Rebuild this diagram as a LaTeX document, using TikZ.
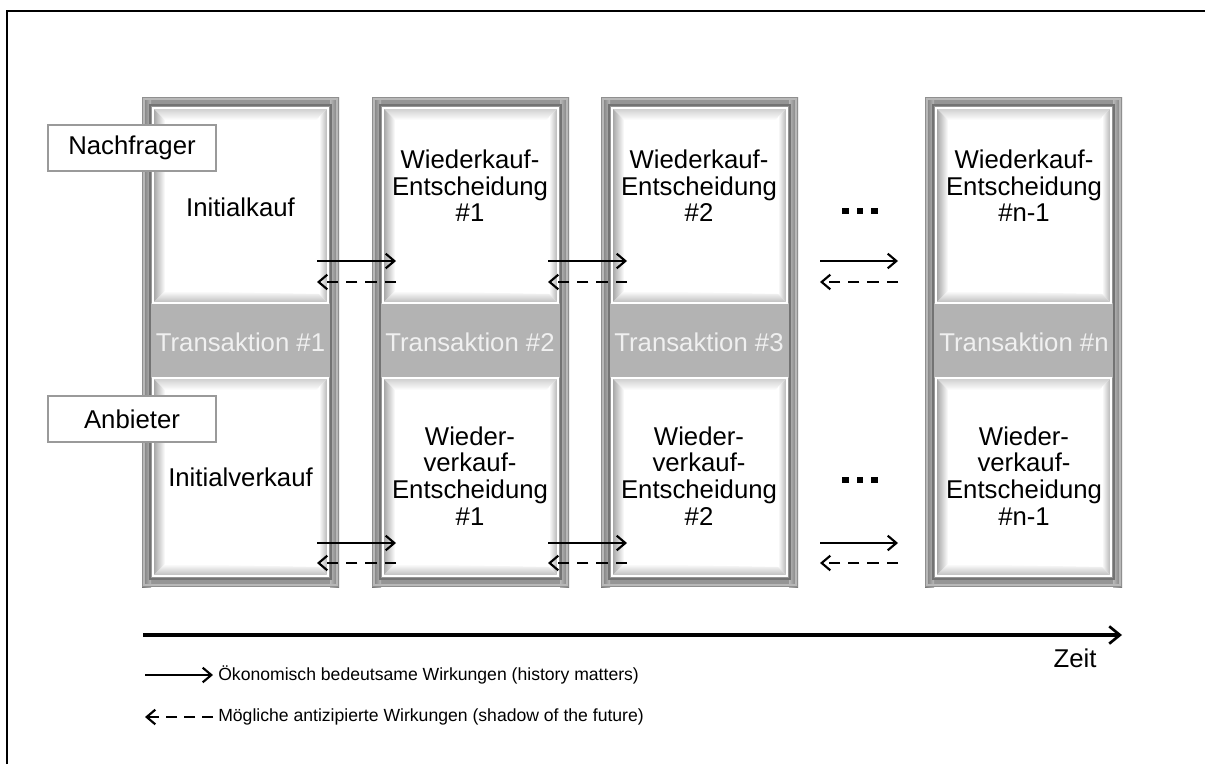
\documentclass[tikz,border=0pt]{standalone}
\usepackage{fontspec}
\setmainfont{Liberation Sans}
\usetikzlibrary{arrows.meta}

\definecolor{rimgray}{HTML}{959595}
\definecolor{rimdark}{HTML}{737373}
\definecolor{rimlight}{HTML}{B8B8B8}
\definecolor{bandgray}{HTML}{B3B3B3}
\definecolor{bevtop}{HTML}{CDCDCD}
\definecolor{bevleft}{HTML}{A0A0A0}
\definecolor{bevright}{HTML}{B0B0B0}
\definecolor{bevbot}{HTML}{BABABA}
\definecolor{boxline}{HTML}{9A9A9A}

% white panel with a shaded bevel: #1,#2 top-left corner, #3,#4 bottom-right corner
\newcommand{\bevelpanel}[4]{%
  \fill[white] (#1,#2) rectangle (#3,#4);
  \shade[top color=bevtop, bottom color=white]
    (#1,#2) -- (#3,#2) -- (#3-12,#2+12) -- (#1+12,#2+12) -- cycle;
  \shade[left color=bevleft, right color=white]
    (#1,#2) -- (#1+12,#2+12) -- (#1+12,#4-12) -- (#1,#4) -- cycle;
  \shade[left color=white, right color=bevright]
    (#3,#2) -- (#3,#4) -- (#3-9,#4-9) -- (#3-9,#2+9) -- cycle;
  \shade[top color=white, bottom color=bevbot]
    (#1,#4) -- (#3,#4) -- (#3-9,#4-9) -- (#1+12,#4-12) -- cycle;
  \draw[white, line width=1pt] (#1,#2) rectangle (#3,#4);
}

\tikzset{
  maintext/.style={font=\fontsize{19.3pt}{20pt}\selectfont, align=center, inner sep=0pt},
  bandtext/.style={maintext, text=white!94!black},
  rolebox/.style={draw=boxline, line width=0.8pt, fill=white,
    minimum width=126pt, minimum height=34.5pt, inner sep=0pt,
    font=\fontsize{19.3pt}{20pt}\selectfont},
  effect/.style={-{Straight Barb[length=6.5pt,width=11pt,line width=1.6pt]}, line width=1.6pt},
  anticip/.style={effect, dash pattern=on 8.5pt off 6pt},
  timeaxis/.style={-{Straight Barb[length=8pt,width=13pt,line width=2pt]}, line width=2.3pt},
  legendtext/.style={font=\fontsize{13.2pt}{15pt}\selectfont, anchor=west, inner sep=0pt},
  dotsq/.style={fill=black},
  column/.pic={
    \fill[rimgray] (0,0) rectangle (197,490);
    \shade[left color=rimdark, right color=rimlight] (0,0) rectangle (9,490);
    \shade[left color=rimlight, right color=rimdark] (188,0) rectangle (197,490);
    \draw[rimlight, line width=1.2pt] (2,2) rectangle (195,488);
    \draw[rimdark!80, line width=0.6pt] (0.3,0.3) rectangle (196.7,489.7);
    \draw[rimdark, line width=0.8pt] (8,8) rectangle (189,482);
    \fill[bandgray] (9,206) rectangle (188,281);
    \bevelpanel{11}{11}{186}{206}
    \bevelpanel{11}{281}{186}{479}
  }
}

\begin{document}
\begin{tikzpicture}[x=0.75pt, y=-0.75pt]
  \useasboundingbox (0,0) rectangle (1205,764);
  \fill[white] (0,0) rectangle (1205,764);
  % page frame
  \draw[line width=1.5pt] (7,764) -- (7,11) -- (1205,11);

  % four transaction columns
  \pic at (142,97) {column};
  \pic at (372,97) {column};
  \pic at (601,97) {column};
  \pic at (925,97) {column};

  % buyer side
  \node[maintext] (k1) at (240.5,207) {Initialkauf};
  \node[maintext] (k2) at (470,186) {Wiederkauf-\\Entscheidung\\\#1};
  \node[maintext] (k3) at (699,186) {Wiederkauf-\\Entscheidung\\\#2};
  \node[maintext] (k4) at (1024,186) {Wiederkauf-\\Entscheidung\\\#n-1};

  % transaction bands
  \node[bandtext] (t1) at (240.5,342) {Transaktion \#1};
  \node[bandtext] (t2) at (470,342) {Transaktion \#2};
  \node[bandtext] (t3) at (699,342) {Transaktion \#3};
  \node[bandtext] (t4) at (1024,342) {Transaktion \#n};

  % seller side
  \node[maintext] (v1) at (240.5,477) {Initialverkauf};
  \node[maintext] (v2) at (470,476) {Wieder-\\verkauf-\\Entscheidung\\\#1};
  \node[maintext] (v3) at (699,476) {Wieder-\\verkauf-\\Entscheidung\\\#2};
  \node[maintext] (v4) at (1024,476) {Wieder-\\verkauf-\\Entscheidung\\\#n-1};

  % role labels
  \node[rolebox] (buyer) at (132,148) {Nachfrager};
  \node[rolebox] (seller) at (132,419) {Anbieter};

  % ellipsis marks before the last column
  \foreach \yy in {211,480} {
    \foreach \xx in {845.3,860,874.7} {
      \fill[dotsq] (\xx-3.4,\yy-3.4) rectangle (\xx+3.4,\yy+3.4);
    }
  }

  % effects between successive decisions
  \foreach \i/\xa/\xb in {1/317/396, 2/548/627, 3/820/898} {
    \coordinate (ua\i) at (\xa,261);
    \coordinate (ub\i) at (\xb,261);
    \coordinate (uc\i) at (\xa,282);
    \coordinate (ud\i) at (\xb,282);
    \coordinate (la\i) at (\xa,543);
    \coordinate (lb\i) at (\xb,543);
    \coordinate (lc\i) at (\xa,563);
    \coordinate (ld\i) at (\xb,563);
    \draw[effect] (ua\i) -- (ub\i);
    \draw[anticip] (ud\i) -- (uc\i);
    \draw[effect] (la\i) -- (lb\i);
    \draw[anticip] (ld\i) -- (lc\i);
  }

  % time axis
  \coordinate (ts) at (143,635);
  \coordinate (te) at (1122,635);
  \draw[timeaxis] (ts) -- (te);
  \node[maintext] (zeit) at (1075,658) {Zeit};

  % legend
  \coordinate (ga) at (145,675);
  \coordinate (gb) at (213,675);
  \coordinate (gc) at (145,717);
  \coordinate (gd) at (213,717);
  \draw[effect] (ga) -- (gb);
  \draw[anticip, dash pattern=on 8pt off 5.5pt] (gd) -- (gc);
  \node[legendtext] (leg1) at (218,675) {Ökonomisch bedeutsame Wirkungen (history matters)};
  \node[legendtext] (leg2) at (218,717) {Mögliche antizipierte Wirkungen (shadow of the future)};
\end{tikzpicture}
\end{document}
